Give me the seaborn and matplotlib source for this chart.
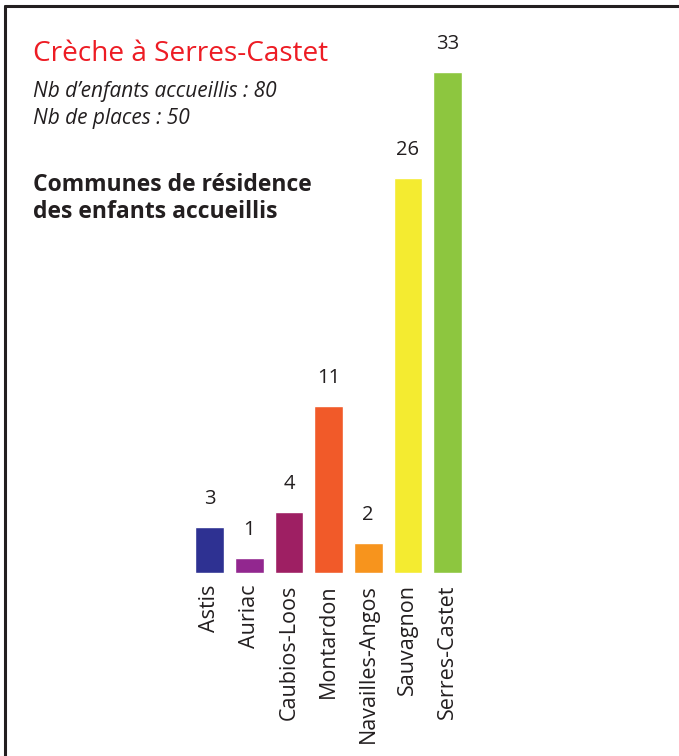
import matplotlib
matplotlib.use("Agg")
import matplotlib.pyplot as plt
import seaborn as sns
import pandas as pd
from matplotlib.lines import Line2D

# data
communes = ["Astis", "Auriac", "Caubios-Loos", "Montardon",
            "Navailles-Angos", "Sauvagnon", "Serres-Castet"]
enfants = [3, 1, 4, 11, 2, 26, 33]
couleurs = ["#2E3192", "#92278F", "#9E1F63", "#F15A29",
            "#F7941D", "#F4EB30", "#8DC63F"]

titre = "Crèche à Serres-Castet"
sous_titre = ["Nb d\u2019enfants accueillis : 80", "Nb de places : 50"]
intitule = ["Communes de résidence", "des enfants accueillis"]

texte = "#231F20"

sns.set_theme(style="white")
plt.rcParams['font.family'] = ['Open Sans', 'DejaVu Sans']

df = pd.DataFrame({"commune": communes, "enfants": enfants})

fig = plt.figure(figsize=(6.79, 7.56), dpi=100)
ax = fig.add_axes([0.2794, 0.242, 0.409, 0.663])

sns.barplot(data=df, x="commune", y="enfants", hue="commune",
            palette=couleurs, width=0.72, saturation=1,
            legend=False, ax=ax)

ax.set_ylim(0, 33)
ax.set_xlim(-0.5, len(communes) - 0.5)
for s in ax.spines.values():
    s.set_visible(False)
ax.set_yticks([])
ax.set_xlabel("")
ax.set_ylabel("")
ax.tick_params(axis="x", length=0, pad=8, labelsize=15.5, labelcolor=texte)
plt.setp(ax.get_xticklabels(), rotation=90, va="top", ha="center")

# valeurs au-dessus des barres
for i, v in enumerate(enfants):
    ax.annotate(str(v), (i, v), xytext=(0, 13), textcoords="offset points",
                ha="center", va="bottom", fontsize=14.5, color=texte)

# textes
fig.text(33 / 679, 1 - 61 / 756, titre, color="#ED1C24", fontsize=20.2,
         ha="left", va="baseline")
fig.text(33 / 679, 1 - 97 / 756, sous_titre[0], color=texte, fontsize=15,
         style="italic", ha="left", va="baseline")
fig.text(33 / 679, 1 - 124 / 756, sous_titre[1], color=texte, fontsize=15,
         style="italic", ha="left", va="baseline")
fig.text(33 / 679, 1 - 191 / 756, intitule[0], color=texte, fontsize=16.5,
         fontweight="bold", ha="left", va="baseline")
fig.text(33 / 679, 1 - 218 / 756, intitule[1], color=texte, fontsize=16.5,
         fontweight="bold", ha="left", va="baseline")

# cadre (seuls les bords haut et gauche sont visibles)
y_top = 1 - 6 / 756
x_left = 5 / 679
fig.add_artist(Line2D([x_left, 1], [y_top, y_top], color=texte, lw=2.2,
                      transform=fig.transFigure))
fig.add_artist(Line2D([x_left, x_left], [0, y_top], color=texte, lw=2.2,
                      transform=fig.transFigure))

fig.savefig("out.png", dpi=100)
